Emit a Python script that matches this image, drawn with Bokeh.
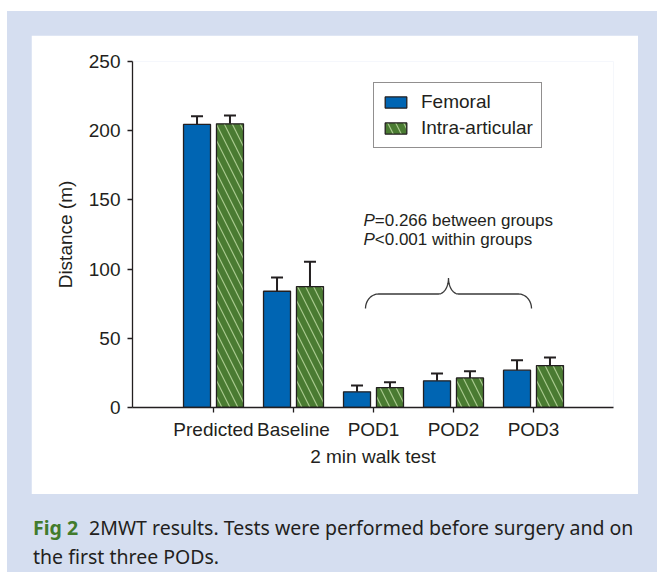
import numpy as np
from bokeh.plotting import figure
from bokeh.layouts import column
from bokeh.models import (Range1d, FixedTicker, Whisker, TeeHead, ColumnDataSource,
                          Label, Legend, LegendItem, Div)
from bokeh.embed import file_html
from bokeh.resources import INLINE

# ---- data ----
categories = ["Predicted", "Baseline", "POD1", "POD2", "POD3"]
femoral_mean = [204.5, 84.0, 11.3, 19.3, 27.0]
femoral_err = [6.0, 10.0, 4.6, 5.3, 7.2]
intra_mean = [205.0, 87.4, 14.4, 21.4, 30.3]
intra_err = [6.0, 18.0, 3.9, 4.8, 5.8]
y_ticks = [0, 50, 100, 150, 200, 250]
series_names = ["Femoral", "Intra-articular"]
stat_lines = ["=0.266 between groups", "<0.001 within groups"]
caption_bold = "Fig 2"
caption_rest = "2MWT results. Tests were performed before surgery and on"
caption_line2 = "the first three PODs."

# ---- styling ----
DARK = "#231f20"
BLUE = "#0065b3"
GREEN = "#4a7b32"
HATCH = "#a9c98e"
FRAME_BG = "#d5def0"
AX_FONT = "Liberation Sans"
CAP_FONT = "Noto Sans"

idx = np.arange(len(categories))
offset = 0.206
bar_w = 0.3375

src_f = ColumnDataSource(dict(x=idx - offset, top=femoral_mean,
                              hi=np.array(femoral_mean) + np.array(femoral_err)))
src_i = ColumnDataSource(dict(x=idx + offset, top=intra_mean,
                              hi=np.array(intra_mean) + np.array(intra_err)))

p = figure(width=607, height=459, output_backend="svg", toolbar_location=None,
           x_range=Range1d(-1.0125, 5.0), y_range=Range1d(0, 250),
           min_border_left=101, min_border_right=25, min_border_top=26,
           min_border_bottom=87, margin=(24, 19, 0, 24))
p.border_fill_color = "white"
p.background_fill_color = "white"
p.outline_line_color = None
p.xgrid.visible = False
p.ygrid.visible = False

rf = p.vbar(x="x", top="top", width=bar_w, source=src_f, fill_color=BLUE,
            line_color=DARK, line_width=1.3)
ri = p.vbar(x="x", top="top", width=bar_w, source=src_i, fill_color=GREEN,
            line_color=DARK, line_width=1.3, hatch_pattern="\\",
            hatch_color=HATCH, hatch_scale=16, hatch_weight=1.2)

for s in (src_f, src_i):
    p.add_layout(Whisker(source=s, base="x", upper="hi", lower="top",
                         line_color=DARK, line_width=2, lower_head=None,
                         upper_head=TeeHead(size=12, line_color=DARK, line_width=2)))

# axes
yax = p.yaxis[0]
yax.ticker = FixedTicker(ticks=y_ticks)
yax.axis_label = "Distance (m)"
xax = p.xaxis[0]
xax.ticker = FixedTicker(ticks=list(idx))
xax.major_label_overrides = {int(i): c for i, c in zip(idx, categories)}
xax.axis_label = "2 min walk test"
for ax in (xax, yax):
    ax.axis_line_color = DARK
    ax.axis_line_width = 1.3
    ax.major_tick_line_color = DARK
    ax.major_tick_line_width = 1.3
    ax.major_tick_out = 5
    ax.major_tick_in = 0
    ax.minor_tick_line_color = None
    ax.major_label_text_font = AX_FONT
    ax.major_label_text_font_size = "19px"
    ax.major_label_text_color = DARK
    ax.axis_label_text_font = AX_FONT
    ax.axis_label_text_font_size = "19px"
    ax.axis_label_text_font_style = "normal"
    ax.axis_label_text_color = DARK
yax.major_label_standoff = 7
yax.axis_label_standoff = 10
xax.major_label_standoff = 6
xax.axis_label_standoff = 3

# legend
legend = Legend(items=[LegendItem(label=series_names[0], renderers=[rf]),
                       LegendItem(label=series_names[1], renderers=[ri])],
                location=(241, 259))
legend.label_text_font = AX_FONT
legend.label_text_font_size = "19px"
legend.label_text_color = DARK
legend.glyph_width = 27
legend.glyph_height = 14
legend.label_standoff = 12
legend.padding = 8
legend.spacing = 4
legend.margin = 0
legend.border_line_color = DARK
legend.border_line_width = 1.2
legend.background_fill_alpha = 1
p.add_layout(legend)

# statistics annotation (data coords)
stat_x = 1.875
stat_y = [135.1, 121.4]
for yy, txt in zip(stat_y, stat_lines):
    p.add_layout(Label(x=stat_x, y=yy, text="P", text_font=AX_FONT,
                       text_font_size="17px", text_font_style="italic",
                       text_color=DARK, text_baseline="alphabetic"))
    p.add_layout(Label(x=stat_x, y=yy, x_offset=11.3, text=txt, text_font=AX_FONT,
                       text_font_size="17px", text_color=DARK,
                       text_baseline="alphabetic"))

# brace spanning POD1..POD3
x0, x1 = 1.9, 3.975
xm = (x0 + x1) / 2
y_end, y_mid, y_tip = 71.5, 82.0, 93.5
rx, rxt = 13 / 80, 10 / 80
t = np.linspace(0, np.pi / 2, 20)
lx = x0 + rx - rx * np.cos(t)
ly = y_end + (y_mid - y_end) * np.sin(t)
tx = xm - rxt + rxt * np.sin(t)
ty = y_tip - (y_tip - y_mid) * np.cos(t)
bx_left = np.concatenate([lx, tx])
by_left = np.concatenate([ly, ty])
bx = np.concatenate([bx_left, (2 * xm - bx_left)[::-1]])
by = np.concatenate([by_left, by_left[::-1]])
p.line(bx, by, line_color="#3a3a3a", line_width=1.3)

# caption panel (HTML text)
cap_html = (
    f'<div style="padding:19px 0 0 26px; font-family:\'{CAP_FONT}\', sans-serif; '
    f'font-size:19.5px; line-height:29px; color:{DARK}; white-space:nowrap;">'
    f'<span style="color:#427b2c; font-weight:bold; margin-right:11px;">{caption_bold}</span>'
    f'{caption_rest}<br>{caption_line2}</div>'
)
cap = Div(text=cap_html, width=650, height=78, margin=0,
          styles={"background-color": FRAME_BG})

layout = column(p, cap, margin=(11, 0, 0, 7), spacing=0,
                styles={"background-color": FRAME_BG})

open("out.html", "w").write(file_html(layout, INLINE))
